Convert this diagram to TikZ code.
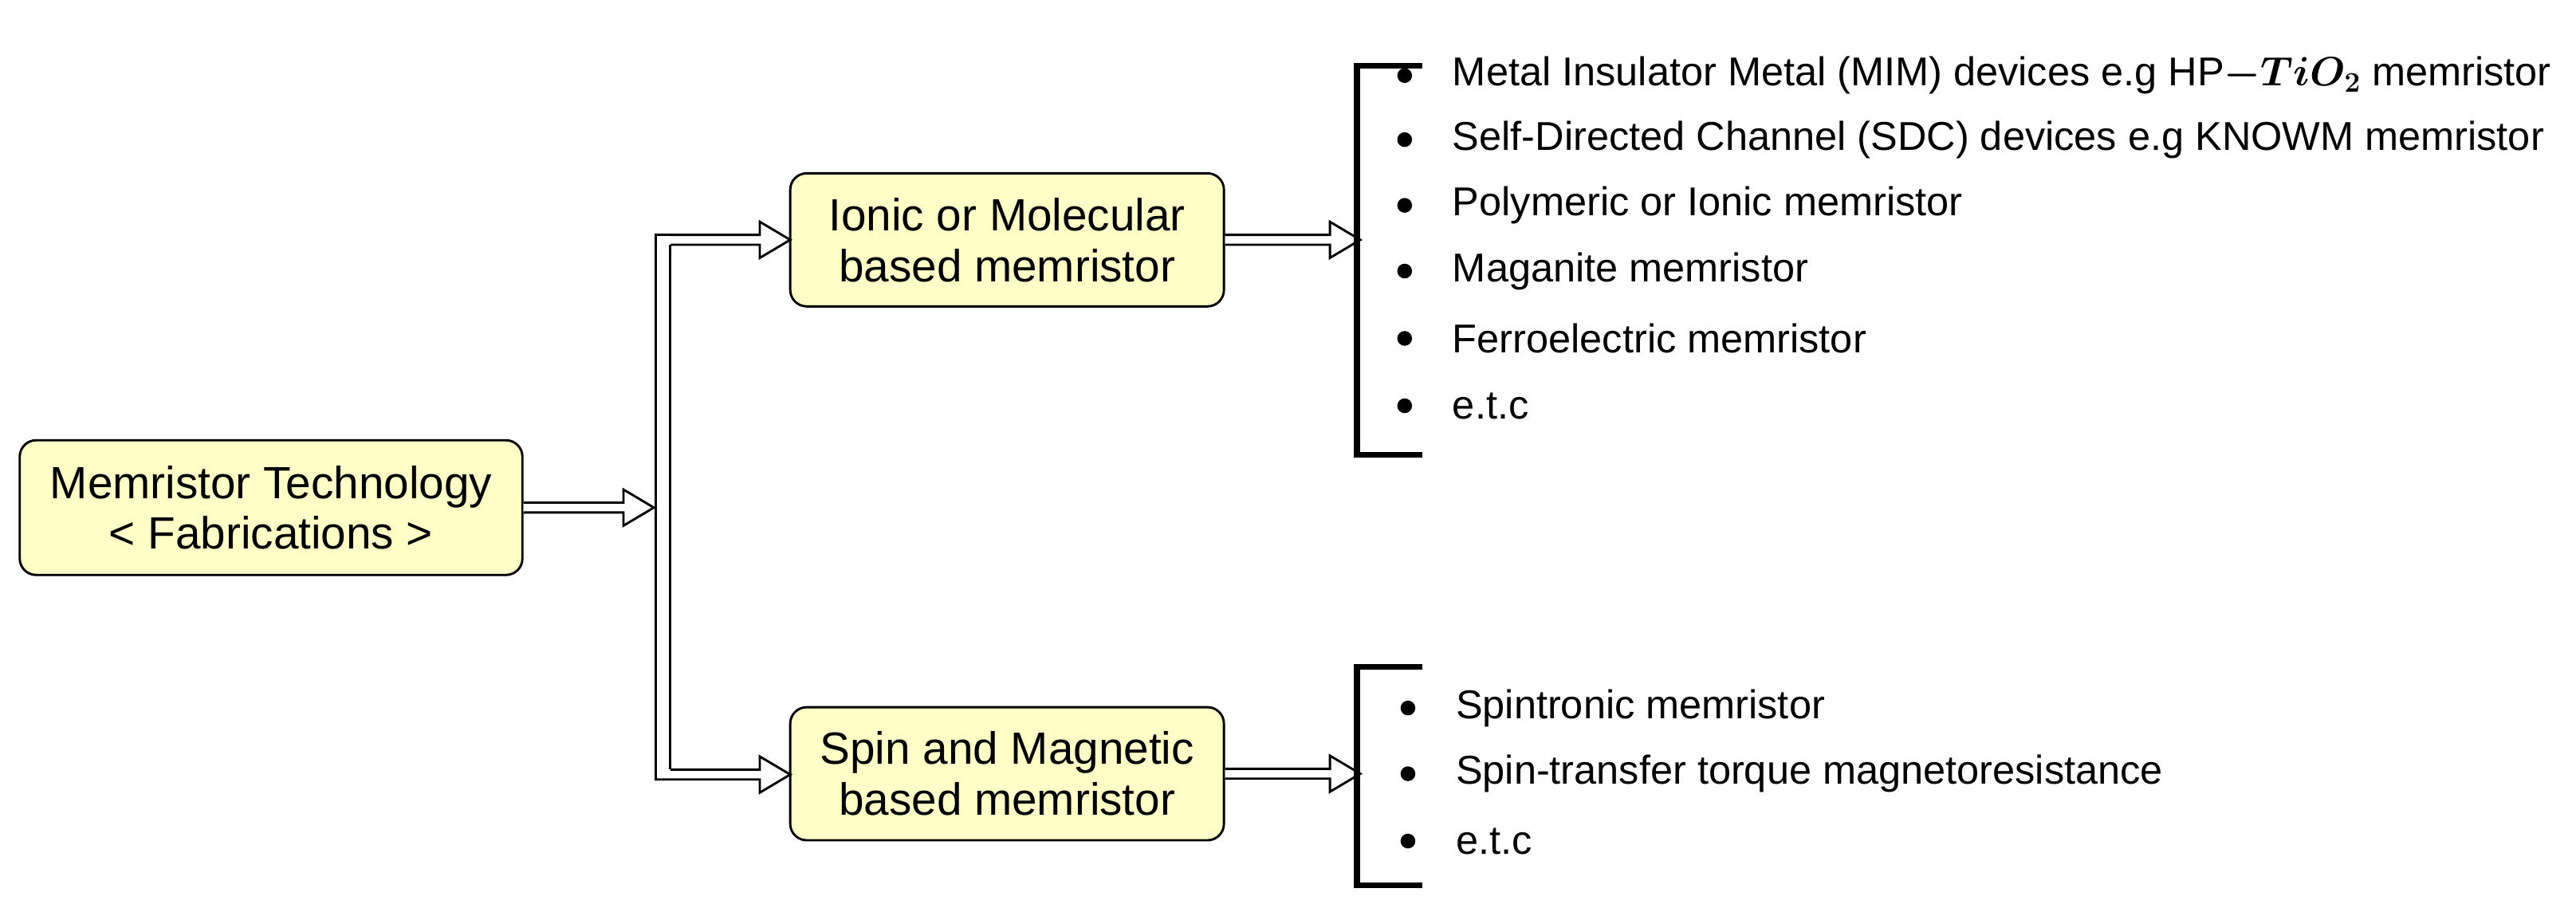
\documentclass[tikz,border=0pt]{standalone}
\usepackage{fontspec}
\usepackage{bm}
\setmainfont{Liberation Sans}
\usetikzlibrary{calc}
\definecolor{boxfill}{RGB}{255,255,200}
\tikzset{
  box/.style={draw, line width=1.4pt, rounded corners=10pt, fill=boxfill, align=center,
    font=\fontsize{27.5}{31}\selectfont, inner sep=0pt},
  item/.style={anchor=west, inner sep=0pt, font=\fontsize{24.5}{29}\selectfont},
  bul/.style={fill=black, circle, inner sep=0pt, minimum size=9pt},
  brk/.style={line width=3.5pt},
  fat/.style={line width=1.4pt, fill=white, line join=miter}
}
\newcommand{\fatarrow}[2]{%
  \draw[fat] ($(#1)+(0,-3)$) -- ($(#2)+(-18.5,-3)$) -- ($(#2)+(-18.5,-11)$) -- (#2)
    -- ($(#2)+(-18.5,11)$) -- ($(#2)+(-18.5,3)$) -- ($(#1)+(0,3)$);}
\begin{document}
\begin{tikzpicture}[x=1pt,y=-1pt]
\useasboundingbox (0,0) rectangle (1568,555);
\node[box, minimum width=306pt, minimum height=82pt] (main) at (165,309) {Memristor Technology\\< Fabrications >};
\node[box, minimum width=264pt, minimum height=81pt] (ion) at (613,146) {Ionic or Molecular\\based memristor};
\node[box, minimum width=264pt, minimum height=81pt] (spin) at (613,471) {Spin and Magnetic\\based memristor};
\coordinate (fork) at (398,309);
\coordinate (fa1) at (399,146); \coordinate (fb1) at (481,146);
\coordinate (fa2) at (399,471.5); \coordinate (fb2) at (481,471.5);
\coordinate (b1) at (828,146); \coordinate (b2) at (828,471);
\fatarrow{main.east}{fork}
\fatarrow{fa1}{fb1}
\fatarrow{fa2}{fb2}
\fill[white] (399,143.7) rectangle (408,473.8);
\draw[line width=1.4pt] (399,142.3) -- (399,475.2);
\draw[line width=1.4pt] (408,149) -- (408,468.5);
\fatarrow{ion.east}{b1}
\fatarrow{spin.east}{b2}
% brackets
\draw[brk] (866,40) -- (826,40) -- (826,277) -- (866,277);
\draw[brk] (866,406) -- (826,406) -- (826,539) -- (866,539);
% list 1
\foreach \y/\n/\t in {46/a1/{Metal Insulator Metal (MIM) devices e.g HP$\bm{-TiO_2}$ memristor},
  85/a2/{Self-Directed Channel (SDC) devices e.g KNOWM memristor},
  125/a3/{Polymeric or Ionic memristor},
  165/a4/{Maganite memristor},
  206/a5/{Ferroelectric memristor},
  247/a6/{e.t.c}}{
  \node[bul] (d\n) at (855,\y) {};
  \node[item] (\n) at (884,\y) {\t};
}
\foreach \y/\n/\t in {431/s1/{Spintronic memristor},
  471/s2/{Spin-transfer torque magnetoresistance},
  512/s3/{e.t.c}}{
  \node[bul] (d\n) at (857,\y) {};
  \node[item] (\n) at (886,\y) {\t};
}
\end{tikzpicture}
\end{document}
